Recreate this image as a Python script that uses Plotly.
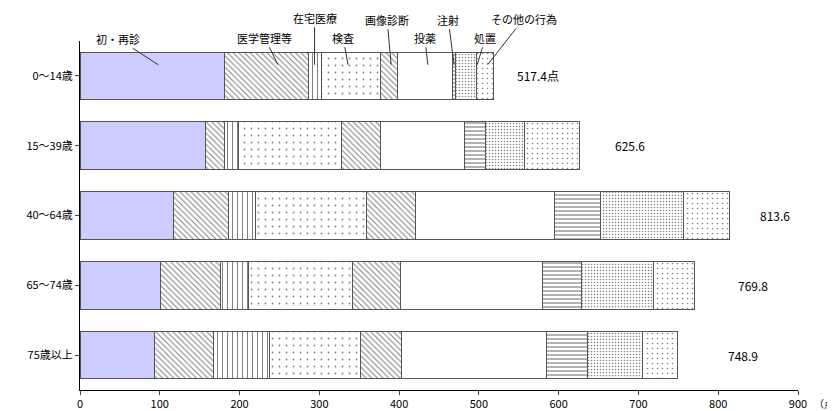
import plotly.graph_objects as go

FONT = "Noto Sans CJK JP"

ages = ["0～14歳", "15～39歳", "40～64歳", "65～74歳", "75歳以上"]
items = ["初・再診", "医学管理等", "在宅医療", "検査", "画像診断", "投薬", "注射", "処置", "その他の行為"]
values = {
    "初・再診":     [181.3, 157.9, 117.8, 101.5, 94.0],
    "医学管理等":   [105.3, 22.6, 68.9, 75.2, 73.9],
    "在宅医療":     [16.7, 18.7, 33.9, 35.1, 70.2],
    "検査":         [73.9, 129.1, 139.0, 130.3, 114.0],
    "画像診断":     [21.3, 48.9, 61.4, 60.2, 51.4],
    "投薬":         [68.9, 105.3, 174.0, 177.9, 181.7],
    "注射":         [3.4, 26.3, 57.9, 48.9, 51.4],
    "処置":         [26.7, 48.8, 104.0, 90.2, 68.9],
    "その他の行為": [20.9, 68.0, 56.7, 50.5, 43.4],
}
totals = ["517.4点", "625.6", "813.6", "769.8", "748.9"]
total_x = [574, 690, 871, 843, 831]

styles = {
    "初・再診":     dict(color="#ccccff", shape="", size=8, solidity=0.2),
    "医学管理等":   dict(color="white", shape="\\", size=4, solidity=0.25),
    "在宅医療":     dict(color="white", shape="|", size=5, solidity=0.2),
    "検査":         dict(color="white", shape=".", size=7, solidity=0.05),
    "画像診断":     dict(color="white", shape="\\", size=4, solidity=0.25),
    "投薬":         dict(color="white", shape="", size=8, solidity=0.2),
    "注射":         dict(color="white", shape="-", size=4, solidity=0.3),
    "処置":         dict(color="white", shape=".", size=3, solidity=0.2),
    "その他の行為": dict(color="white", shape=".", size=5, solidity=0.08),
}

ypos = list(range(len(ages)))
fig = go.Figure()
for it in items:
    s = styles[it]
    fig.add_trace(go.Bar(
        x=values[it], y=ypos, orientation="h", name=it, width=0.68,
        marker=dict(
            color=s["color"],
            line=dict(color="#555555", width=1),
            pattern=dict(shape=s["shape"], size=s["size"], solidity=s["solidity"],
                         fgcolor="black", bgcolor=s["color"]),
        ),
    ))

for i, t in enumerate(totals):
    fig.add_annotation(x=total_x[i], y=i, text=t, showarrow=False,
                       font=dict(size=12, color="black"))

# leader labels on the top bar: (text, head x in data units, text offset px)
heads = [
    ("初・再診", 98, -40, -26),
    ("医学管理等", 248, -13, -27),
    ("在宅医療", 294, 0, -47),
    ("検査", 336, -5, -27),
    ("画像診断", 390, -4, -45),
    ("投薬", 436, -3, -27),
    ("注射", 469, -6, -45),
    ("処置", 498, 8, -27),
    ("その他の行為", 511, 36, -46),
]
for txt, hx, ax, ay in heads:
    fig.add_annotation(x=hx, y=-0.16, text=txt, showarrow=True, arrowhead=0,
                       arrowwidth=1, arrowcolor="#333333", ax=ax, ay=ay,
                       font=dict(size=11, color="black"))

fig.add_annotation(x=1.0, xref="paper", xanchor="left", xshift=14, y=0, yref="paper",
                   yanchor="top", yshift=-4, text="（点）", showarrow=False,
                   font=dict(size=10, color="black"))

fig.update_layout(
    barmode="stack", showlegend=False,
    width=835, height=411,
    margin=dict(l=72, r=45, t=33, b=29),
    plot_bgcolor="white", paper_bgcolor="white",
    font=dict(family=FONT, size=11, color="black"),
    xaxis=dict(range=[0, 900], dtick=100, showgrid=False, zeroline=False,
               showline=True, linecolor="black", ticks="outside", ticklen=4,
               automargin=False),
    yaxis=dict(range=[4.5, -0.5], tickvals=ypos, ticktext=ages, showgrid=False,
               zeroline=False, showline=True, linecolor="black", ticks="outside",
               ticklen=4, automargin=False),
)

fig.write_html("out.html")
